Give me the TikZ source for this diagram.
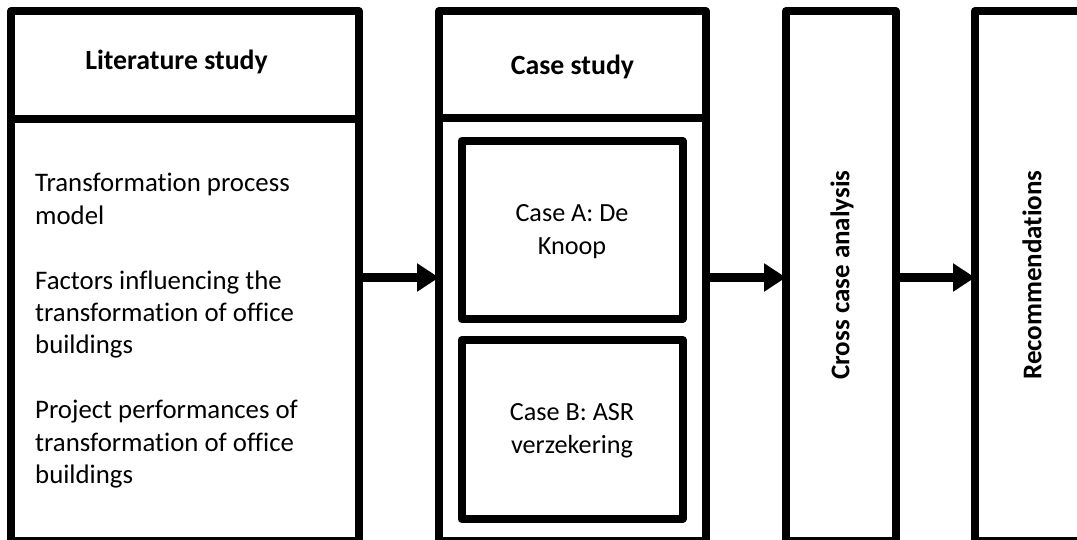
\documentclass[tikz,border=0pt]{standalone}
\usepackage{fontspec}
\setmainfont{Carlito}[Ligatures=NoCommon]
\usetikzlibrary{arrows.meta}

\tikzset{
  frame/.style={draw=black, line width=8pt, line join=round, fill=white,
    rectangle, inner sep=0pt, outer sep=0pt},
  headtext/.style={font=\fontsize{27.8}{33}\selectfont\bfseries, inner sep=0pt, anchor=base},
  bodytext/.style={font=\fontsize{26.2}{32.8}\selectfont, inner sep=0pt},
  sidetext/.style={font=\fontsize{27}{33}\selectfont\bfseries, inner sep=0pt, rotate=90},
  flow/.style={line width=8.5pt, -{Triangle[length=22pt,width=27pt]}},
}

\begin{document}
\begin{tikzpicture}[x=1pt, y=-1pt]
  \useasboundingbox (0,0) rectangle (1077,540);
  \fill[white] (0,0) rectangle (1077,540);
  \clip (0,0) rectangle (1077,540);

  % Literature study column
  \node[frame, minimum width=347.5pt, minimum height=421.5pt] (litbody) at (184.75,330.25) {};
  \node[frame, minimum width=347.5pt, minimum height=108.5pt] (lithead) at (184.75,65.25) {};
  \node[headtext] (littitle) at (176.5,70) {Literature study};
  \node[bodytext, anchor=base west] (litlist) at (35,192) {\parbox[t]{310pt}{\raggedright
    \fontsize{26.8}{32.4}\selectfont
    Transformation process\\
    model\\[32.4pt]
    Factors influencing the\\
    transformation of office\\
    buildings\\[32.4pt]
    Project performances of\\
    transformation of office\\
    buildings}};

  % Case study column with its two cases
  \node[frame, minimum width=266.5pt, minimum height=422.5pt] (casebody) at (572.25,329.75) {};
  \node[frame, minimum width=266.5pt, minimum height=107.5pt] (casehead) at (572.25,64.75) {};
  \node[headtext] (casetitle) at (572.5,75) {Case study};
  \node[frame, minimum width=221pt, minimum height=178pt] (caseA) at (572,230) {};
  \node[bodytext, align=center] (caseAtext) at (572,232) {Case A: De\\Knoop};
  \node[frame, minimum width=221pt, minimum height=179pt] (caseB) at (572,429.5) {};
  \node[bodytext, align=center] (caseBtext) at (572,431) {Case B: ASR\\verzekering};

  % Cross case analysis and recommendations
  \node[frame, minimum width=109.5pt, minimum height=530pt] (cross) at (840.75,276) {};
  \node[sidetext] (crosstext) at (842,275) {Cross case analysis};
  \node[frame, minimum width=115pt, minimum height=530pt] (rec) at (1032.5,276) {};
  \node[sidetext] (rectext) at (1032,275) {Recommendations};

  % Flow between the stages
  \coordinate (row) at (0,277.5);
  \draw[flow] (litbody.east |- row) -- (casebody.west |- row);
  \draw[flow] (casebody.east |- row) -- (cross.west |- row);
  \draw[flow] (cross.east |- row) -- (rec.west |- row);
\end{tikzpicture}
\end{document}
